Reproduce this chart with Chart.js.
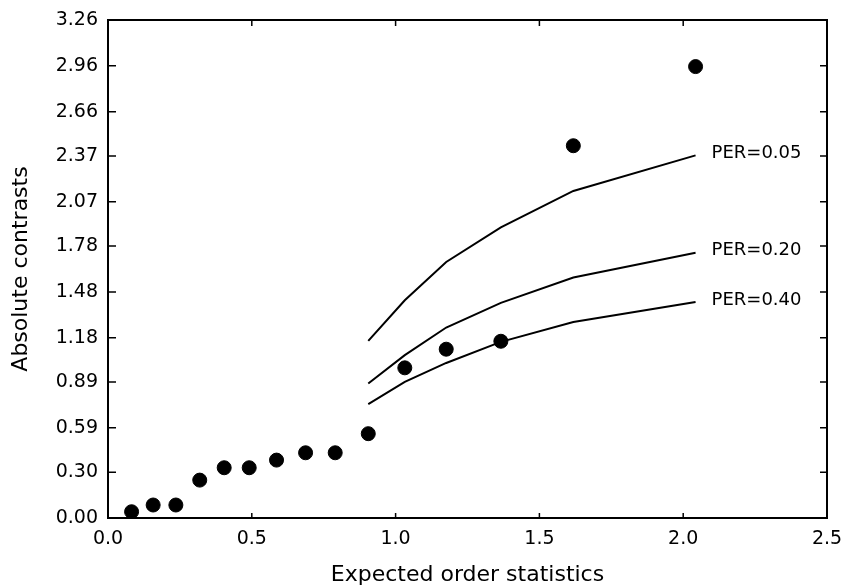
<!DOCTYPE html>
<html>
<head>
<meta charset="utf-8">
<script src="https://cdn.jsdelivr.net/npm/chart.js@4"></script>
<style>
  body { margin: 0; background: #fff; }
  #wrap { width: 846px; height: 588px; }
</style>
</head>
<body>
<div id="wrap"><canvas id="myChart"></canvas></div>
<script>
// expected order statistics (x) and absolute contrasts (y)
const orderStats = [0.082, 0.157, 0.236, 0.319, 0.404, 0.491, 0.586, 0.687, 0.790, 0.905, 1.032, 1.176, 1.366, 1.618, 2.043];
const contrasts  = [0.041, 0.085, 0.085, 0.248, 0.329, 0.329, 0.379, 0.427, 0.427, 0.552, 0.983, 1.105, 1.157, 2.437, 2.955];

// reference curves, drawn at the last six order statistics
const curveX   = [0.905, 1.032, 1.176, 1.366, 1.618, 2.043];
const per005   = [1.159, 1.425, 1.676, 1.902, 2.141, 2.374];
const per020   = [0.881, 1.066, 1.247, 1.408, 1.574, 1.737];
const per040   = [0.745, 0.891, 1.015, 1.153, 1.283, 1.414];
const curveNames = ['PER=0.05', 'PER=0.20', 'PER=0.40'];

const yTickLabels = ['0.00', '0.30', '0.59', '0.89', '1.18', '1.48', '1.78', '2.07', '2.37', '2.66', '2.96', '3.26'];
const xTickLabels = ['0.0', '0.5', '1.0', '1.5', '2.0', '2.5'];

const pts = (xs, ys) => xs.map((x, i) => ({ x: x, y: ys[i] }));

// frame + inward tick marks + curve labels
const framePlugin = {
  id: 'frame',
  afterDraw(chart) {
    const { ctx, chartArea: a, scales } = chart;
    ctx.save();
    ctx.strokeStyle = '#000';
    ctx.lineWidth = 2;
    ctx.strokeRect(a.left, a.top, a.right - a.left, a.bottom - a.top);
    ctx.lineWidth = 1.5;
    ctx.beginPath();
    scales.y.ticks.forEach(t => {
      const y = scales.y.getPixelForValue(t.value);
      ctx.moveTo(a.left, y); ctx.lineTo(a.left + 8, y);
      ctx.moveTo(a.right, y); ctx.lineTo(a.right - 7, y);
    });
    scales.x.ticks.forEach(t => {
      const x = scales.x.getPixelForValue(t.value);
      ctx.moveTo(x, a.bottom); ctx.lineTo(x, a.bottom - 5);
      ctx.moveTo(x, a.top); ctx.lineTo(x, a.top + 6);
    });
    ctx.stroke();

    ctx.fillStyle = '#000';
    ctx.font = '18px "DejaVu Sans"';
    ctx.textBaseline = 'middle';
    ctx.textAlign = 'left';
    [1, 2, 3].forEach((di, k) => {
      const d = chart.data.datasets[di].data;
      const last = d[d.length - 1];
      const x = scales.x.getPixelForValue(last.x) + 16;
      const y = scales.y.getPixelForValue(last.y) - 2;
      ctx.fillText(curveNames[k], x, y);
    });
    ctx.restore();
  }
};

const curveStyle = {
  type: 'line',
  borderColor: '#000',
  borderWidth: 2,
  pointRadius: 0,
  tension: 0,
  fill: false
};

new Chart(document.getElementById('myChart'), {
  type: 'scatter',
  data: {
    datasets: [
      {
        label: 'contrasts',
        data: pts(orderStats, contrasts),
        backgroundColor: '#000',
        borderColor: '#000',
        pointRadius: 7,
        pointHoverRadius: 7
      },
      Object.assign({ label: curveNames[0], data: pts(curveX, per005) }, curveStyle),
      Object.assign({ label: curveNames[1], data: pts(curveX, per020) }, curveStyle),
      Object.assign({ label: curveNames[2], data: pts(curveX, per040) }, curveStyle)
    ]
  },
  options: {
    responsive: true,
    maintainAspectRatio: false,
    animation: false,
    layout: { padding: { top: 20, right: 19, left: 0, bottom: 0 } },
    plugins: {
      legend: { display: false },
      tooltip: { enabled: false }
    },
    scales: {
      x: {
        type: 'linear',
        min: 0,
        max: 2.5,
        afterBuildTicks: axis => {
          axis.ticks = xTickLabels.map(s => ({ value: parseFloat(s) }));
        },
        afterFit: axis => {
          axis.height = 70;
          axis.paddingLeft = 0;
          axis.paddingRight = 0;
        },
        grid: { display: false, drawTicks: false },
        border: { display: false },
        ticks: {
          color: '#000',
          font: { family: 'DejaVu Sans', size: 19 },
          padding: 10,
          maxRotation: 0,
          callback: (v, i) => xTickLabels[i]
        },
        title: {
          display: true,
          text: 'Expected order statistics',
          color: '#000',
          font: { family: 'DejaVu Sans', size: 22 },
          padding: { top: 0, bottom: 0 }
        }
      },
      y: {
        type: 'linear',
        min: 0,
        max: 3.26,
        afterBuildTicks: axis => {
          axis.ticks = yTickLabels.map(s => ({ value: parseFloat(s) }));
        },
        afterFit: axis => {
          axis.width = 108;
          axis.paddingTop = 0;
          axis.paddingBottom = 0;
        },
        grid: { display: false, drawTicks: false },
        border: { display: false },
        ticks: {
          color: '#000',
          font: { family: 'DejaVu Sans', size: 19 },
          padding: 10,
          callback: (v, i) => yTickLabels[i]
        },
        title: {
          display: true,
          text: 'Absolute contrasts',
          color: '#000',
          font: { family: 'DejaVu Sans', size: 22 },
          padding: { top: 8, bottom: 0 }
        }
      }
    }
  },
  plugins: [framePlugin]
});
</script>
</body>
</html>
